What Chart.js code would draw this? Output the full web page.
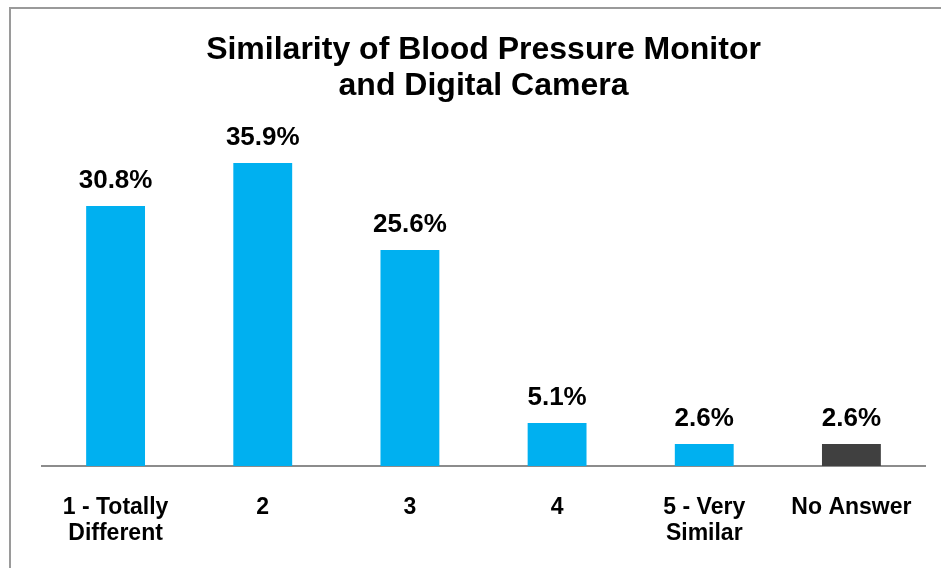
<!DOCTYPE html>
<html>
<head>
<meta charset="utf-8">
<script src="https://cdn.jsdelivr.net/npm/chart.js@4"></script>
<style>
  html, body { margin: 0; padding: 0; background: #fff; overflow: hidden; }
  #chart { display: block; }
</style>
</head>
<body>
<canvas id="chart" width="941" height="568"></canvas>
<script>
  // ---- Data ----
  const categories = [['1 - Totally', 'Different'], '2', '3', '4', ['5 - Very', 'Similar'], 'No Answer'];
  const shares = [30.8, 35.9, 25.6, 5.1, 2.6, 2.6];
  const barColors = ['#00B0F0', '#00B0F0', '#00B0F0', '#00B0F0', '#00B0F0', '#404040'];
  const titleLines = ['Similarity of Blood Pressure Monitor', 'and Digital Camera'];

  const font = "'Liberation Sans', Arial, sans-serif";

  // grey frame on the left and top edges
  const frame = {
    id: 'frame',
    beforeDraw(chart) {
      const ctx = chart.ctx;
      ctx.save();
      ctx.strokeStyle = '#9a9a9a';
      ctx.lineWidth = 2;
      ctx.beginPath();
      ctx.moveTo(10, chart.height);
      ctx.lineTo(10, 8);
      ctx.lineTo(chart.width, 8);
      ctx.stroke();
      ctx.restore();
    }
  };

  // value labels above bars
  const valueLabels = {
    id: 'valueLabels',
    afterDatasetsDraw(chart) {
      const ctx = chart.ctx;
      const meta = chart.getDatasetMeta(0);
      ctx.save();
      ctx.font = 'bold 26px ' + font;
      ctx.fillStyle = '#000';
      ctx.textAlign = 'center';
      ctx.textBaseline = 'alphabetic';
      meta.data.forEach((bar, i) => {
        ctx.fillText(shares[i].toFixed(1) + '%', bar.x, bar.y - 18);
      });
      ctx.restore();
    }
  };

  new Chart(document.getElementById('chart'), {
    type: 'bar',
    data: {
      labels: categories,
      datasets: [{
        data: shares,
        backgroundColor: barColors,
        borderWidth: 0,
        barPercentage: 0.4,
        categoryPercentage: 1.0
      }]
    },
    options: {
      responsive: false,
      animation: false,
      layout: { padding: { left: 42, right: 16, top: 0, bottom: 0 } },
      plugins: {
        legend: { display: false },
        tooltip: { enabled: false },
        title: {
          display: true,
          text: titleLines,
          color: '#000',
          font: { family: font, size: 32, weight: 'bold', lineHeight: 1.1 },
          padding: { top: 33, bottom: 25 }
        }
      },
      scales: {
        y: { display: false, min: 0, max: 40 },
        x: {
          grid: { display: false, drawTicks: false },
          border: { display: true, color: '#8c8c8c', width: 2 },
          ticks: {
            color: '#000',
            padding: 28,
            autoSkip: false,
            maxRotation: 0,
            font: { family: font, size: 23, weight: 'bold', lineHeight: 1.15 }
          },
          afterFit(scale) { scale.height = 102; }
        }
      }
    },
    plugins: [frame, valueLabels]
  });
</script>
</body>
</html>
